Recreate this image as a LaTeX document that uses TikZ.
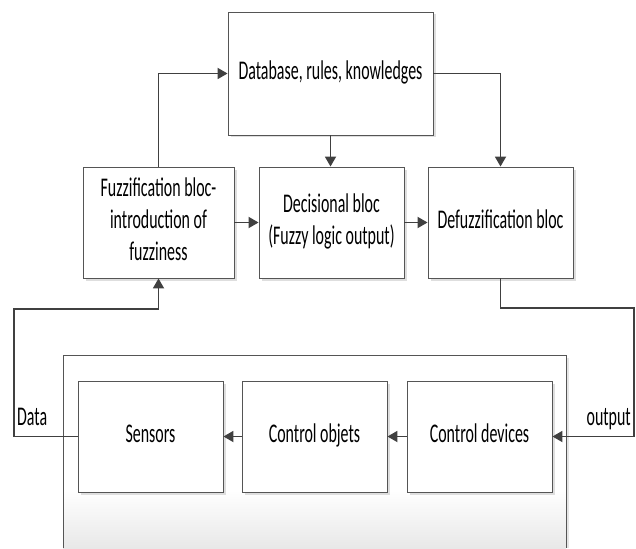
\documentclass[tikz,border=0pt]{standalone}
\usepackage{fontspec}
\setmainfont{Carlito}
\usepackage{graphicx}
\usetikzlibrary{arrows.meta,shadows,calc}
\newcommand\sqz[1]{\scalebox{0.59}[1]{\begin{tabular}{@{}c@{}}#1\end{tabular}}}
\newcommand\sqw[1]{\scalebox{0.59}[1]{#1}}
\definecolor{ln}{HTML}{404040}
\definecolor{bd}{HTML}{555555}
\tikzset{
  blk/.style={draw=bd, line width=0.9pt, fill=white, inner sep=0pt,
    font=\fontsize{27}{32}\selectfont,
    drop shadow={shadow xshift=2.5pt, shadow yshift=-2.5pt, fill=black!13, opacity=1}},
  conn/.style={draw=ln, line width=1.8pt, -{Triangle[length=10pt,width=11pt]}},
  lbl/.style={font=\fontsize{27}{32}\selectfont, inner sep=0pt}
}
\begin{document}
\begin{tikzpicture}[x=1pt,y=-1pt]
\useasboundingbox (0,0) rectangle (636,548);
% outer frame
\fill[black!10] (66,358) rectangle (569,548);
\fill[white] (63,355) rectangle (566,548);
\shade[top color=white, bottom color=black!9] (63,490) rectangle (566,548);
\draw[bd, line width=0.9pt] (63,548) -- (63,355) -- (566,355) -- (566,548);
% blocks
\node[blk, minimum width=205pt, minimum height=123pt] (db) at (330.5,73.5) {\sqz{Database, rules, knowledges}};
\node[blk, minimum width=151pt, minimum height=111pt] (fuzz) at (158.5,222.5) {\sqz{Fuzzification bloc-\\introduction of\\fuzziness}};
\node[blk, minimum width=145pt, minimum height=111pt] (dec) at (331.5,222.5) {\sqz{Decisional bloc\\(Fuzzy logic output)}};
\node[blk, minimum width=145pt, minimum height=111pt] (defuzz) at (500.5,222.5) {\sqz{Defuzzification bloc}};
\node[blk, minimum width=145pt, minimum height=111pt] (sensors) at (150.5,436.5) {\sqz{Sensors}};
\node[blk, minimum width=145pt, minimum height=111pt] (cobj) at (314.5,436.5) {\sqz{Control objets}};
\node[blk, minimum width=145pt, minimum height=111pt] (cdev) at (479.5,436.5) {\sqz{Control devices}};
% connectors
\draw[conn] (fuzz.north) |- (db.west);
\draw[conn] (db.east) -| (defuzz.north);
\draw[conn] (db.south) -- (db.south |- dec.north);
\draw[conn] (fuzz.east) -- (dec.west);
\draw[conn] (dec.east) -- (defuzz.west);
\coordinate (r1) at (634,308);
\draw[conn] (defuzz.south) |- (r1) |- (cdev.east);
\coordinate (l1) at (14,309);
\draw[conn] (sensors.west) -| (l1) -| (fuzz.south);
\draw[conn] (cdev.west) -- (cobj.east);
\draw[conn] (cobj.west) -- (sensors.east);
% labels
\node[lbl, anchor=base west] (data) at (17,425) {\sqw{Data}};
\node[lbl, anchor=base east] (out) at (631,425) {\sqw{output}};
\end{tikzpicture}
\end{document}
